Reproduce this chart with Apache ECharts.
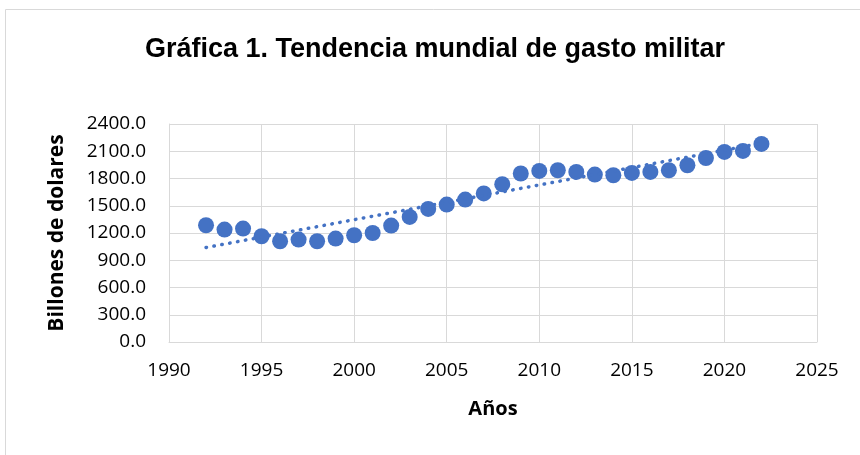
<!DOCTYPE html>
<html>
<head>
<meta charset="utf-8">
<script src="https://cdn.jsdelivr.net/npm/echarts@6/dist/echarts.min.js"></script>
<style>
  html, body { margin: 0; padding: 0; background: #fff; }
  #chart { width: 860px; height: 455px; }
</style>
</head>
<body>
<div id="chart"></div>
<script>
// datos
const years = [1992, 1993, 1994, 1995, 1996, 1997, 1998, 1999, 2000, 2001,
  2002, 2003, 2004, 2005, 2006, 2007, 2008, 2009, 2010, 2011,
  2012, 2013, 2014, 2015, 2016, 2017, 2018, 2019, 2020, 2021, 2022];
const gasto = [1285, 1238, 1249, 1164, 1109, 1128, 1109, 1139, 1175, 1200,
  1282, 1377, 1465, 1513, 1568, 1636, 1737, 1855, 1883, 1891,
  1872, 1843, 1836, 1861, 1872, 1891, 1946, 2026, 2093, 2104, 2181];
// línea de tendencia (extremos leídos)
const trendYears = [1992, 2022];
const trendValues = [1040, 2188];

const azul = '#4472c4';
const chart = echarts.init(document.getElementById('chart'));

const option = {
  animation: false,
  graphic: [{
    type: 'rect',
    shape: { x: 5.5, y: 9.5, width: 860, height: 460 },
    style: { fill: 'none', stroke: '#d9d9d9', lineWidth: 1 },
    silent: true
  }],
  title: {
    text: 'Gráfica 1. Tendencia mundial de gasto militar',
    left: 430,
    textAlign: 'center',
    top: 31,
    textStyle: {
      fontFamily: 'Liberation Sans',
      fontWeight: 'bold',
      fontSize: 27,
      color: '#000'
    }
  },
  grid: {
    left: 169,
    right: 43,
    top: 124,
    bottom: 113
  },
  xAxis: {
    type: 'value',
    min: 1990,
    max: 2025,
    interval: 5,
    name: 'Años',
    nameLocation: 'middle',
    nameGap: 57,
    nameTextStyle: {
      fontFamily: 'Open Sans',
      fontWeight: 'bold',
      fontSize: 20,
      color: '#000'
    },
    axisLine: { show: true, lineStyle: { color: '#d9d9d9', width: 1 } },
    axisTick: { show: false },
    axisLabel: {
      margin: 19,
      fontFamily: 'Open Sans',
      fontSize: 19,
      color: '#000',
      formatter: v => String(v)
    },
    splitLine: { show: true, lineStyle: { color: '#d9d9d9', width: 1 } }
  },
  yAxis: {
    type: 'value',
    min: 0,
    max: 2400,
    interval: 300,
    name: 'Billones de dolares',
    nameLocation: 'middle',
    nameGap: 101,
    nameTextStyle: {
      fontFamily: 'Open Sans',
      fontWeight: 'bold',
      fontSize: 21,
      color: '#000'
    },
    axisLine: { show: true, lineStyle: { color: '#d9d9d9', width: 1 } },
    axisTick: { show: false },
    axisLabel: {
      margin: 23,
      fontFamily: 'Open Sans',
      fontSize: 19,
      color: '#000',
      formatter: v => v.toFixed(1)
    },
    splitLine: { show: true, lineStyle: { color: '#d9d9d9', width: 1 } }
  },
  series: [
    {
      name: 'Gasto',
      type: 'scatter',
      symbol: 'circle',
      symbolSize: 16,
      itemStyle: { color: azul, opacity: 1 },
      data: years.map((y, i) => [y, gasto[i]]),
      z: 2
    },
    {
      name: 'Tendencia',
      type: 'line',
      symbol: 'none',
      lineStyle: { color: azul, width: 3.5, type: [0.5, 7.5], cap: 'round' },
      data: trendYears.map((y, i) => [y, trendValues[i]]),
      z: 3
    }
  ]
};

chart.setOption(option);
</script>
</body>
</html>
